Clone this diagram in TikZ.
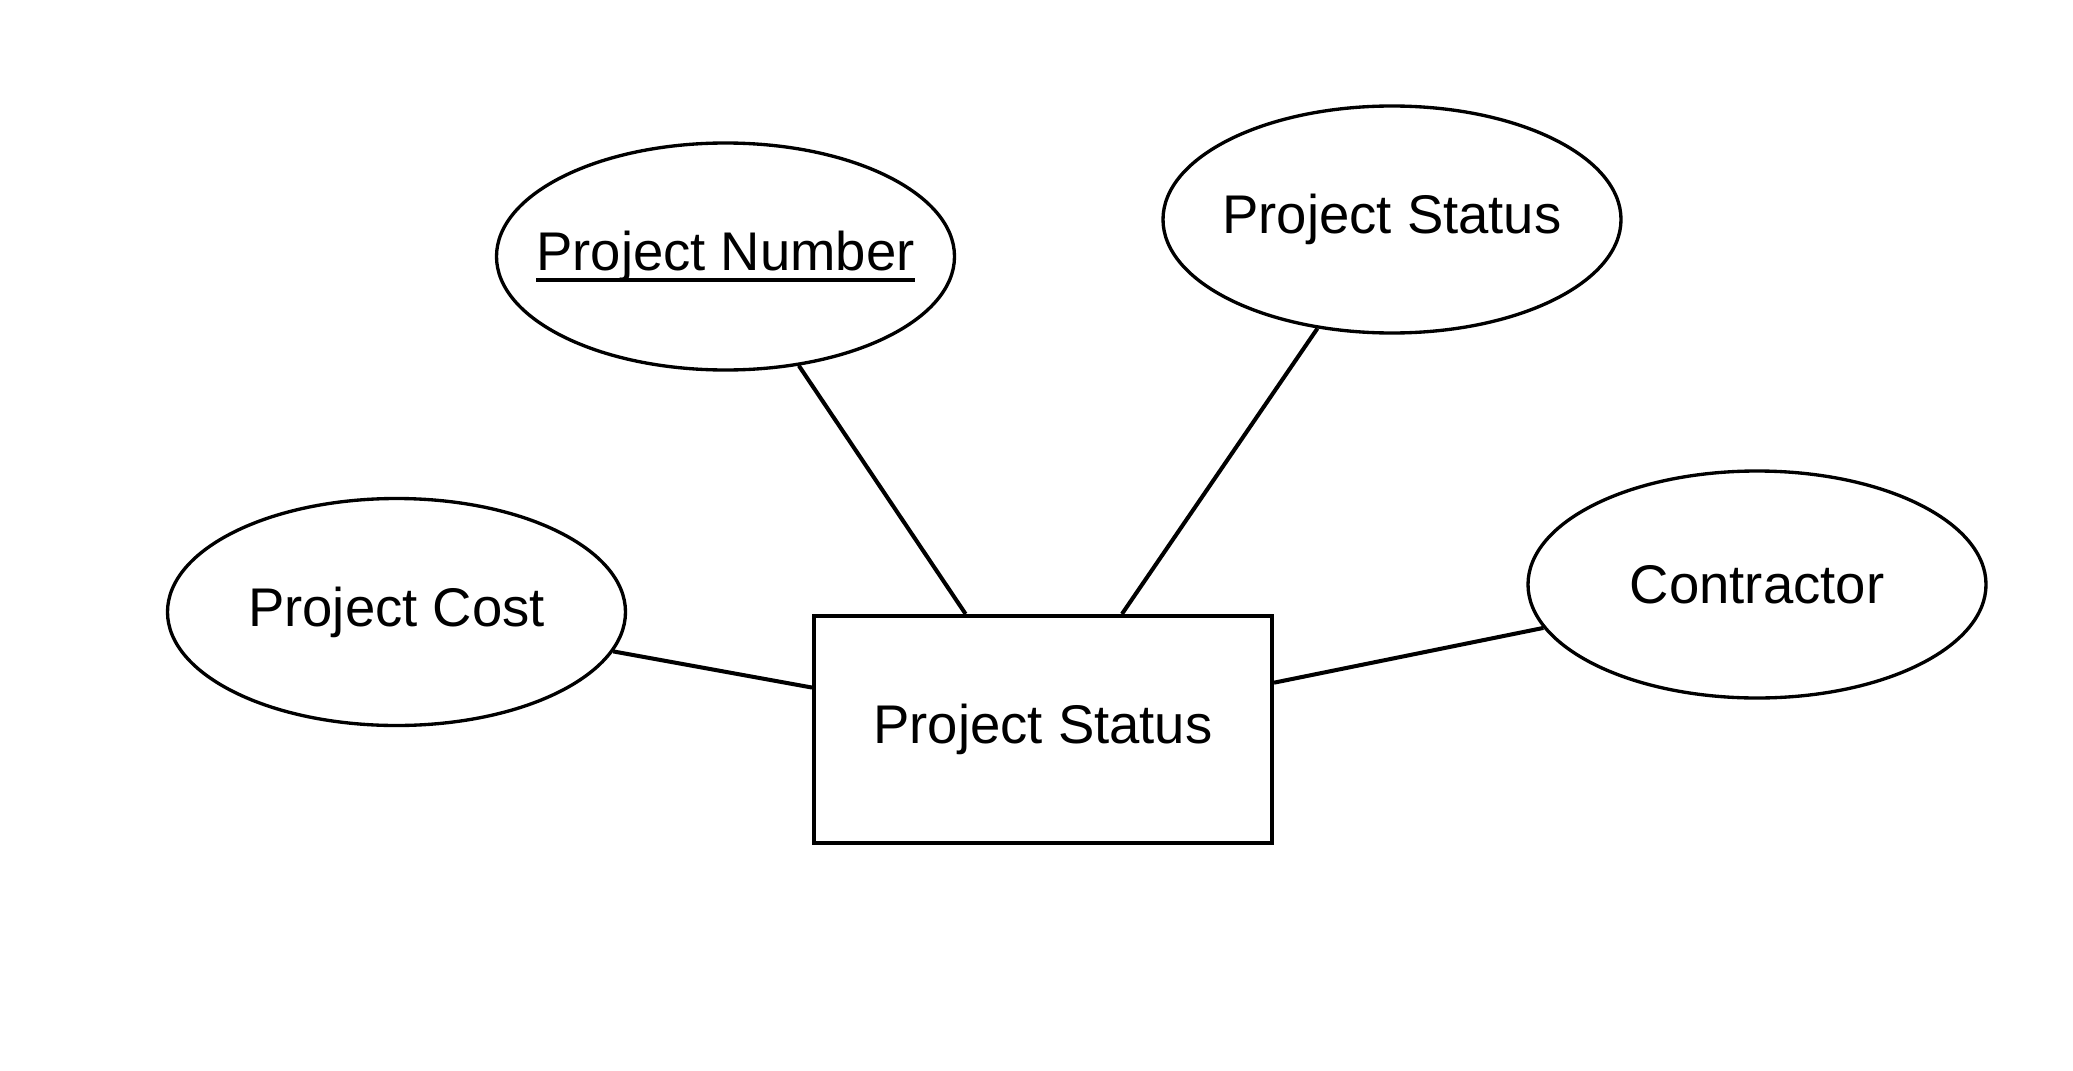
\documentclass[tikz,border=0pt]{standalone}
\usepackage{fontspec}
\setmainfont{Liberation Sans}
\usepackage{tikz}
\usetikzlibrary{shapes.geometric, positioning}
\usepackage{xcolor}
\definecolor{ERBlack}{HTML}{000000}
\definecolor{ERWhite}{HTML}{ffffff}
% underlined key attribute
\newcommand{\keyattr}[1]{\setbox0\hbox{#1}\rlap{\rule[-3.4pt]{\wd0}{1.1pt}}\box0}
% zero-width text, so the ellipse keeps its own size
\newcommand{\attrtext}[1]{\makebox[0pt]{#1}}
\tikzset{
    % Node styles
    entitybox/.style={
        rectangle,
        draw=ERBlack,
        fill=ERWhite,
        line width=1.15pt,
        minimum width=4.58cm,
        minimum height=2.27cm,
        text centered,
        font=\fontsize{15.5}{18}\selectfont
    },
    attrbox/.style={
        ellipse,
        draw=ERBlack,
        fill=ERWhite,
        line width=0.95pt,
        inner sep=0pt,
        minimum width=4.58cm,
        minimum height=2.27cm,
        text centered,
        font=\fontsize{15.5}{18}\selectfont
    },
    % Connector style
    attrline/.style={
        -,
        line width=1.15pt,
        ERBlack
    }
}
\begin{document}
\begin{tikzpicture}
    \useasboundingbox (0,0) rectangle (20.73,10.70);
    \node[entitybox] (ent) at (10.43,3.405) {Project Status};
    \node[attrbox] (pnum) at (7.255,8.135) {\attrtext{\keyattr{Project Number}}};
    \node[attrbox] (pstat) at (13.92,8.505) {\attrtext{Project Status}};
    \node[attrbox] (pcost) at (3.965,4.58) {\attrtext{Project Cost}};
    \node[attrbox] (contr) at (17.57,4.855) {\attrtext{Contractor}};

    \draw[attrline] (pnum) -- (ent);
    \draw[attrline] (pstat) -- (ent);
    \draw[attrline] (pcost) -- (ent);
    \draw[attrline] (contr) -- (ent);
\end{tikzpicture}
\end{document}
